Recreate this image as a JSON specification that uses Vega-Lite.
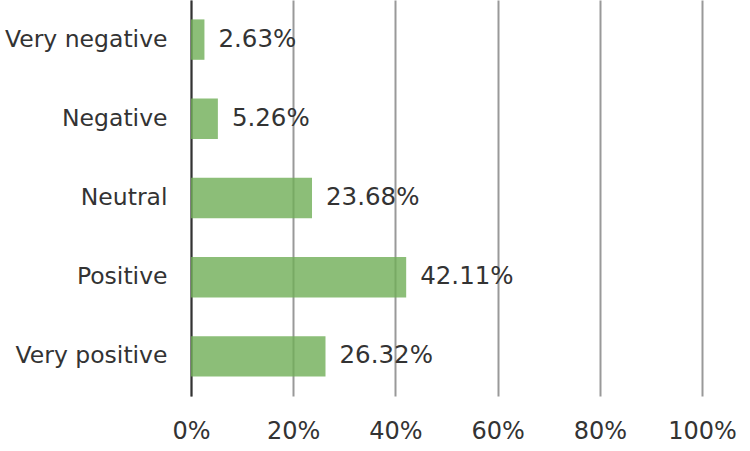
{
  "$schema": "https://vega.github.io/schema/vega-lite/v6.json",
  "width": 511,
  "height": 396,
  "autosize": {"type": "none"},
  "padding": {"left": 191, "top": 0, "right": 48, "bottom": 55},
  "background": "white",
  "config": {
    "view": {"stroke": null},
    "font": "DejaVu Sans"
  },
  "data": {
    "values": [
      {"category": "Very negative", "value": 0.0263, "label": "2.63%"},
      {"category": "Negative", "value": 0.0526, "label": "5.26%"},
      {"category": "Neutral", "value": 0.2368, "label": "23.68%"},
      {"category": "Positive", "value": 0.4211, "label": "42.11%"},
      {"category": "Very positive", "value": 0.2632, "label": "26.32%"}
    ]
  },
  "encoding": {
    "y": {
      "field": "category",
      "type": "nominal",
      "sort": null,
      "scale": {"paddingInner": 0.49, "paddingOuter": 0.245},
      "axis": {
        "title": null,
        "ticks": false,
        "domain": true,
        "domainColor": "#333333",
        "domainWidth": 2,
        "labelFontSize": 23.5,
        "labelColor": "#333333",
        "labelPadding": 24,
        "grid": false
      }
    },
    "x": {
      "field": "value",
      "type": "quantitative",
      "scale": {"domain": [0, 1], "nice": false},
      "axis": {
        "title": null,
        "format": ".0%",
        "values": [0, 0.2, 0.4, 0.6, 0.8, 1],
        "ticks": false,
        "domain": false,
        "grid": true,
        "gridColor": "#999999",
        "gridWidth": 2,
        "labelFontSize": 24,
        "labelColor": "#333333",
        "labelPadding": 23,
        "labelFlush": false,
        "labelBound": false
      }
    }
  },
  "layer": [
    {
      "mark": {"type": "bar", "color": "#6FAE56", "opacity": 0.8}
    },
    {
      "mark": {"type": "text", "align": "left", "baseline": "middle", "dx": 14, "fontSize": 24.5, "color": "#333333"},
      "encoding": {"text": {"field": "label"}}
    }
  ]
}
